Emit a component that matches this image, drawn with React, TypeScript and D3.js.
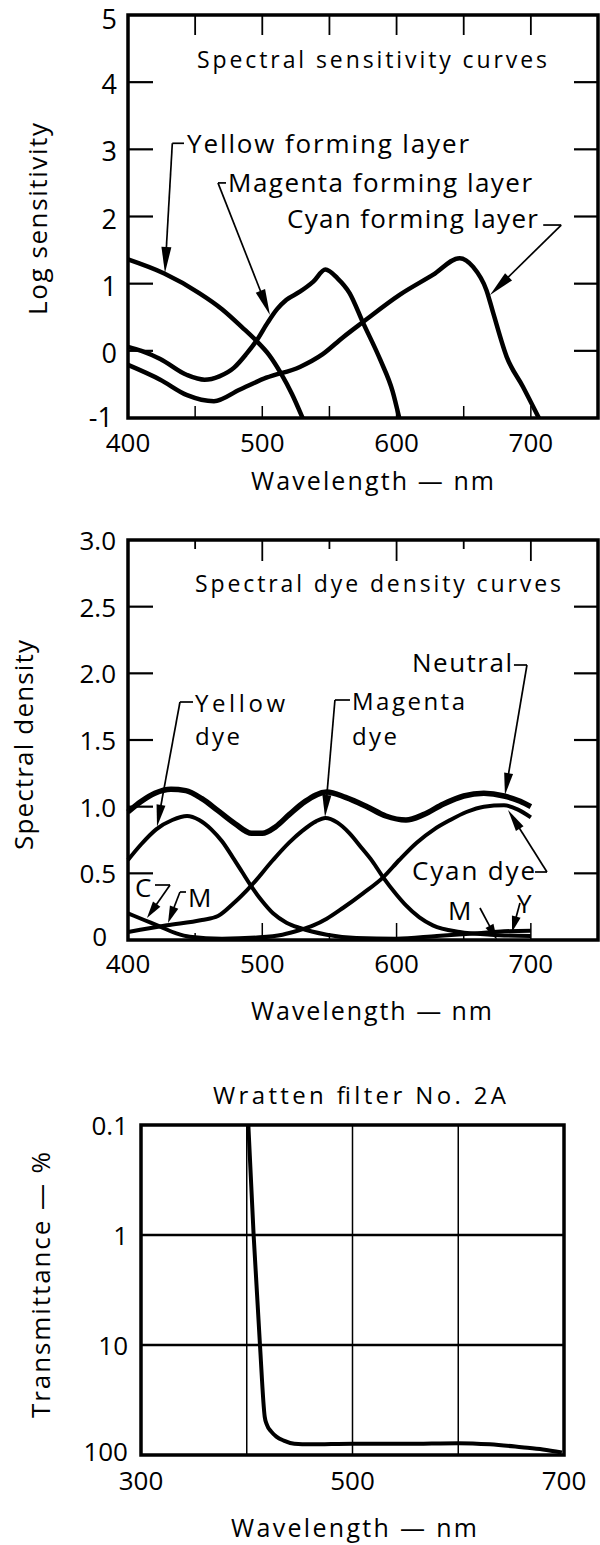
import React from 'react';
import * as d3 from 'd3';

type P = [number, number];

// ---------- Chart 1: spectral sensitivity ----------
const sensXTicks = [400, 500, 600, 700];
const sensXMinor = [450, 500, 550, 600, 650, 700];
const sensYTicks = [-1, 0, 1, 2, 3, 4, 5];
const sensYInner = [0, 1, 2, 3, 4];
const sensYellow: P[] = [[400, 1.36], [427, 1.15], [453, 0.86], [470, 0.62], [485, 0.35], [496, 0.14], [505, -0.06], [514, -0.34], [522, -0.64], [530, -1.0]];
const sensMagenta: P[] = [[400, 0.06], [410, 0.0], [424, -0.12], [444, -0.36], [457, -0.43], [468, -0.38], [479, -0.25], [488, -0.05], [496, 0.16], [504, 0.42], [511, 0.62], [518, 0.76], [528, 0.88], [538, 1.03], [547, 1.21], [556, 1.08], [565, 0.86], [575, 0.42], [588, -0.14], [597, -0.6], [602, -1.0]];
const sensCyan: P[] = [[400, -0.21], [424, -0.43], [444, -0.66], [464, -0.75], [483, -0.58], [503, -0.4], [528, -0.24], [545, -0.05], [560, 0.2], [575, 0.43], [602, 0.83], [627, 1.13], [647, 1.38], [657, 1.25], [667, 0.9], [672, 0.56], [682, -0.09], [694, -0.53], [706, -1.0]];

// ---------- Chart 2: spectral dye density ----------
const dyeXTicks = [400, 500, 600, 700];
const dyeXMinor = [450, 500, 550, 600, 650, 700];
const dyeYTicks = [0, 0.5, 1, 1.5, 2, 2.5, 3];
const dyeYTickLabels = ['0', '0.5', '1.0', '1.5', '2.0', '2.5', '3.0'];
const dyeYInner = [0.5, 1, 1.5, 2, 2.5];
const dyeNeutral: P[] = [[400, 0.96], [410, 1.04], [420, 1.1], [432, 1.13], [443, 1.12], [455, 1.06], [467, 0.97], [480, 0.87], [492, 0.8], [500, 0.8], [510, 0.85], [520, 0.94], [532, 1.04], [548, 1.11], [562, 1.07], [578, 1.0], [592, 0.93], [607, 0.9], [620, 0.94], [635, 1.02], [650, 1.08], [665, 1.1], [680, 1.08], [692, 1.04], [700, 1.0]];
const dyeYellow: P[] = [[400, 0.6], [410, 0.72], [421, 0.83], [433, 0.9], [444, 0.93], [453, 0.9], [462, 0.83], [470, 0.74], [478, 0.62], [485, 0.51], [492, 0.4], [500, 0.29], [508, 0.2], [518, 0.13], [528, 0.09], [548, 0.04], [570, 0.015], [600, 0.01], [630, 0.03], [660, 0.05], [680, 0.065], [700, 0.07]];
const dyeMagenta: P[] = [[400, 0.06], [429, 0.11], [455, 0.15], [467, 0.18], [478, 0.27], [492, 0.41], [508, 0.6], [520, 0.73], [530, 0.82], [540, 0.89], [547, 0.915], [556, 0.88], [565, 0.8], [574, 0.69], [582, 0.59], [590, 0.47], [600, 0.34], [607, 0.26], [617, 0.17], [627, 0.11], [647, 0.06], [670, 0.04], [700, 0.03]];
const dyeCyan: P[] = [[400, 0.2], [412, 0.15], [424, 0.1], [436, 0.05], [446, 0.025], [470, 0.01], [498, 0.02], [515, 0.04], [528, 0.075], [538, 0.11], [548, 0.16], [560, 0.24], [575, 0.35], [590, 0.47], [602, 0.6], [615, 0.73], [628, 0.83], [640, 0.9], [652, 0.96], [665, 1.0], [680, 1.01], [690, 0.98], [700, 0.92]];

// ---------- Chart 3: Wratten filter No. 2A ----------
const filtXTicks = [300, 500, 700];
const filtGridX = [400, 500, 600];
const filtYTicks = [0.1, 1, 10, 100];
const filtYTickLabels = ['0.1', '1', '10', '100'];
const filtGridY = [1, 10];
const filtWl = [401.5, 406.5, 412.5, 417, 419, 423, 428, 435, 445, 460, 500, 550, 600, 630, 660, 680, 698];
const filtT = [0.1, 1, 10, 45, 53, 61, 68, 74, 79, 80, 79, 79, 78, 80, 85, 89, 95];

// ---------- annotations (data coordinates) ----------
type Ann = { lines: string[]; at: P[]; widths: number[]; stub?: [P, P]; from: P; tip: P; head?: [number, number]; size?: number };
const sensAnns: Ann[] = [
  { lines: ['Yellow forming layer'], at: [[444, 2.95]], widths: [282], stub: [[433, 3.09], [441.7, 3.09]], from: [433, 3.09], tip: [427.5, 1.16] },
  { lines: ['Magenta forming layer'], at: [[474.5, 2.364]], widths: [304], stub: [[467, 2.5], [473, 2.5]], from: [467, 2.5], tip: [505.7, 0.533] },
  { lines: ['Cyan forming layer'], at: [[518.4, 1.83]], widths: [251], stub: [[709.2, 1.873], [722.6, 1.873]], from: [722.6, 1.873], tip: [669.6, 0.83] },
];
const dyeAnns: Ann[] = [
  { lines: ['Yellow', 'dye'], at: [[449.9, 1.71], [449.9, 1.4625]], widths: [90, 45], stub: [[438.7, 1.785], [448.4, 1.785]], from: [438.7, 1.785], tip: [421.6, 0.85], size: 24 },
  { lines: ['Magenta', 'dye'], at: [[566.8, 1.725], [566.8, 1.4625]], widths: [113, 45], stub: [[554.1, 1.8], [565.3, 1.8]], from: [554.1, 1.8], tip: [546.7, 0.9225], size: 24 },
  { lines: ['Neutral'], at: [[611.5, 2.01]], widths: [100], stub: [[687.4, 2.0625], [697.1, 2.0625]], from: [697.1, 2.0625], tip: [680.7, 1.0875] },
  { lines: ['Cyan dye'], at: [[611.5, 0.45]], widths: [123], stub: [[703.1, 0.51], [712.0, 0.51]], from: [712.0, 0.51], tip: [683, 0.975] },
  { lines: ['C'], at: [[405.2, 0.3225]], widths: [17], stub: [[420.1, 0.4125], [431.3, 0.4125]], from: [431.3, 0.4125], tip: [414.1, 0.165], head: [17, 4.5] },
  { lines: ['M'], at: [[444.7, 0.2475]], widths: [24], stub: [[438.7, 0.36], [443.2, 0.36]], from: [438.7, 0.36], tip: [429.8, 0.1275], head: [17, 4.5] },
  { lines: ['M'], at: [[638.3, 0.15]], widths: [24], from: [662.1, 0.24], tip: [674.8, 0.0], head: [16, 4.5] },
  { lines: ['Y'], at: [[689.7, 0.2025]], widths: [18], from: [691.9, 0.2775], tip: [686, 0.06], head: [16, 4.5] },
];

const FONT = "'Open Sans', Lato, 'DejaVu Sans', sans-serif";

function Txt(props: { x: number; y: number; children: any; size?: number; width?: number; anchor?: string; rotate?: boolean }) {
  const { x, y, children, size = 24, width, anchor = 'start', rotate = false } = props;
  const extra: any = {};
  if (width) { extra.textLength = width; extra.lengthAdjust = 'spacing'; }
  return (
    <text x={x} y={y} fontSize={size} fontFamily={FONT} textAnchor={anchor} fill="#000"
      transform={rotate ? `rotate(-90 ${x} ${y})` : undefined} {...extra}>{children}</text>
  );
}

function Arrow({ from, to, len = 24, hw = 4.5, sw = 1.7 }: { from: P; to: P; len?: number; hw?: number; sw?: number }) {
  const [x1, y1] = from; const [x2, y2] = to;
  const dx = x2 - x1, dy = y2 - y1; const L = Math.hypot(dx, dy);
  const ux = dx / L, uy = dy / L;
  const bx = x2 - ux * len, by = y2 - uy * len;
  const px = -uy * hw, py = ux * hw;
  return (
    <g>
      <line x1={x1} y1={y1} x2={bx + ux * 2} y2={by + uy * 2} stroke="#000" strokeWidth={sw} />
      <polygon points={`${x2},${y2} ${bx + px},${by + py} ${bx - px},${by - py}`} fill="#000" />
    </g>
  );
}

function Annotations({ anns, x, y, size, head }: { anns: Ann[]; x: any; y: any; size: number; head: [number, number] }) {
  return (
    <g>
      {anns.map((a, i) => {
        const h = a.head || head;
        return (
          <g key={i}>
            {a.lines.map((t, j) => (
              <Txt key={j} x={x(a.at[j][0])} y={y(a.at[j][1])} size={a.size || size} width={a.widths[j]}>{t}</Txt>
            ))}
            {a.stub && (
              <line x1={x(a.stub[0][0])} y1={y(a.stub[0][1])} x2={x(a.stub[1][0])} y2={y(a.stub[1][1])} stroke="#000" strokeWidth={1.7} />
            )}
            <Arrow from={[x(a.from[0]), y(a.from[1])]} to={[x(a.tip[0]), y(a.tip[1])]} len={h[0]} hw={h[1]} />
          </g>
        );
      })}
    </g>
  );
}

function path(data: P[], x: any, y: any) {
  return d3.line<P>().x(d => x(d[0])).y(d => y(d[1])).curve(d3.curveMonotoneX)(data) || '';
}

export default function App() {
  const x1 = d3.scaleLinear().domain([400, 750]).range([128, 598]);
  const y1 = d3.scaleLinear().domain([-1, 5]).range([418, 15]);
  const x2 = d3.scaleLinear().domain([400, 750]).range([128, 598]);
  const y2 = d3.scaleLinear().domain([0, 3]).range([940, 540]);
  const x3 = d3.scaleLinear().domain([300, 700]).range([141, 564]);
  const y3 = d3.scaleLog().domain([0.1, 100]).range([1125, 1455]);

  const frameW = 3.5;
  const filtData: P[] = filtWl.map((w, i) => [w, filtT[i]]);

  return (
    <svg width={600} height={1545} viewBox="0 0 600 1545" style={{ position: 'absolute', left: 0, top: 0, background: '#fff' }}>
      <rect x={0} y={0} width={600} height={1545} fill="#fff" />

      {/* ===== Chart 1 ===== */}
      <g>
        {sensYInner.map(v => (
          <g key={v}>
            <line x1={x1(400)} x2={x1(400) + 25} y1={y1(v)} y2={y1(v)} stroke="#000" strokeWidth={2.2} />
            <line x1={x1(750)} x2={x1(750) - 24} y1={y1(v)} y2={y1(v)} stroke="#000" strokeWidth={2.2} />
          </g>
        ))}
        {sensXMinor.map(v => (
          <g key={v}>
            <line x1={x1(v)} x2={x1(v)} y1={y1(5)} y2={y1(5) + 20} stroke="#000" strokeWidth={1.8} />
            <line x1={x1(v)} x2={x1(v)} y1={y1(-1)} y2={y1(-1) - 12} stroke="#000" strokeWidth={1.5} />
          </g>
        ))}
        <rect x={x1(400)} y={y1(5)} width={x1(750) - x1(400)} height={y1(-1) - y1(5)} fill="none" stroke="#000" strokeWidth={frameW} />
        {[sensYellow, sensMagenta, sensCyan].map((d, i) => (
          <path key={i} d={path(d, x1, y1)} fill="none" stroke="#000" strokeWidth={4.5} strokeLinejoin="round" />
        ))}
        {sensYTicks.map(v => (
          <Txt key={v} x={v < 0 ? 113 : 117} y={y1(v) + (v === 5 ? 14 : v < 0 ? 9 : 12)} size={27} anchor="end">{String(v)}</Txt>
        ))}
        {sensXTicks.map(v => (
          <Txt key={v} x={x1(v)} y={452} size={26} anchor="middle">{String(v)}</Txt>
        ))}
        <Txt x={197} y={68} size={23} width={350}>Spectral sensitivity curves</Txt>
        <Txt x={251} y={490} size={25} width={243}>Wavelength — nm</Txt>
        <Txt x={47} y={219} size={26} width={192} anchor="middle" rotate>Log sensitivity</Txt>
        <Annotations anns={sensAnns} x={x1} y={y1} size={26} head={[26, 5]} />
      </g>

      {/* ===== Chart 2 ===== */}
      <g>
        {dyeYInner.map(v => (
          <g key={v}>
            <line x1={x2(400)} x2={x2(400) + 25} y1={y2(v)} y2={y2(v)} stroke="#000" strokeWidth={2.2} />
            <line x1={x2(750)} x2={x2(750) - 24} y1={y2(v)} y2={y2(v)} stroke="#000" strokeWidth={2.2} />
          </g>
        ))}
        {dyeXMinor.map(v => {
          const major = v % 100 === 0;
          return (
            <g key={v}>
              <line x1={x2(v)} x2={x2(v)} y1={y2(3)} y2={y2(3) + (major ? 21 : 9)} stroke="#000" strokeWidth={1.8} />
              <line x1={x2(v)} x2={x2(v)} y1={y2(0)} y2={y2(0) - (major ? 17 : 7)} stroke="#000" strokeWidth={1.5} />
            </g>
          );
        })}
        <rect x={x2(400)} y={y2(3)} width={x2(750) - x2(400)} height={y2(0) - y2(3)} fill="none" stroke="#000" strokeWidth={frameW} />
        {[dyeYellow, dyeMagenta, dyeCyan].map((d, i) => (
          <path key={i} d={path(d, x2, y2)} fill="none" stroke="#000" strokeWidth={4} strokeLinejoin="round" />
        ))}
        <path d={path(dyeNeutral, x2, y2)} fill="none" stroke="#000" strokeWidth={5.5} strokeLinejoin="round" />
        {dyeYTicks.map((v, i) => (
          <Txt key={v} x={v === 0 ? 107 : 116} y={y2(v) + (v === 0 ? 6 : 10)} size={26} anchor="end">{dyeYTickLabels[i]}</Txt>
        ))}
        {dyeXTicks.map(v => (
          <Txt key={v} x={x2(v)} y={973} size={26} anchor="middle">{String(v)}</Txt>
        ))}
        <Txt x={195} y={592} size={23} width={366}>Spectral dye density curves</Txt>
        <Txt x={251} y={1020} size={25} width={241}>Wavelength — nm</Txt>
        <Txt x={33} y={745} size={26} width={210} anchor="middle" rotate>Spectral density</Txt>
        <Annotations anns={dyeAnns} x={x2} y={y2} size={26} head={[22, 4.5]} />
      </g>

      {/* ===== Chart 3 ===== */}
      <g>
        {filtGridX.map(v => (
          <line key={v} x1={x3(v)} x2={x3(v)} y1={y3(0.1)} y2={y3(100)} stroke="#000" strokeWidth={1.5} />
        ))}
        {filtGridY.map(v => (
          <line key={v} x1={x3(300)} x2={x3(700)} y1={y3(v)} y2={y3(v)} stroke="#000" strokeWidth={2.5} />
        ))}
        <rect x={x3(300)} y={y3(0.1)} width={x3(700) - x3(300)} height={y3(100) - y3(0.1)} fill="none" stroke="#000" strokeWidth={frameW} />
        <path d={path(filtData, x3, y3)} fill="none" stroke="#000" strokeWidth={4} strokeLinejoin="round" />
        {filtYTicks.map((v, i) => (
          <Txt key={v} x={128} y={y3(v) + (v === 100 ? 6 : 10)} size={26} anchor="end">{filtYTickLabels[i]}</Txt>
        ))}
        {filtXTicks.map(v => (
          <Txt key={v} x={x3(v)} y={1490} size={26} anchor="middle">{String(v)}</Txt>
        ))}
        <Txt x={213} y={1104} size={24} width={293}>Wratten filter No. 2A</Txt>
        <Txt x={231} y={1537} size={25} width={246}>Wavelength — nm</Txt>
        <Txt x={50} y={1285} size={26} width={266} anchor="middle" rotate>Transmittance — %</Txt>
      </g>
    </svg>
  );
}
